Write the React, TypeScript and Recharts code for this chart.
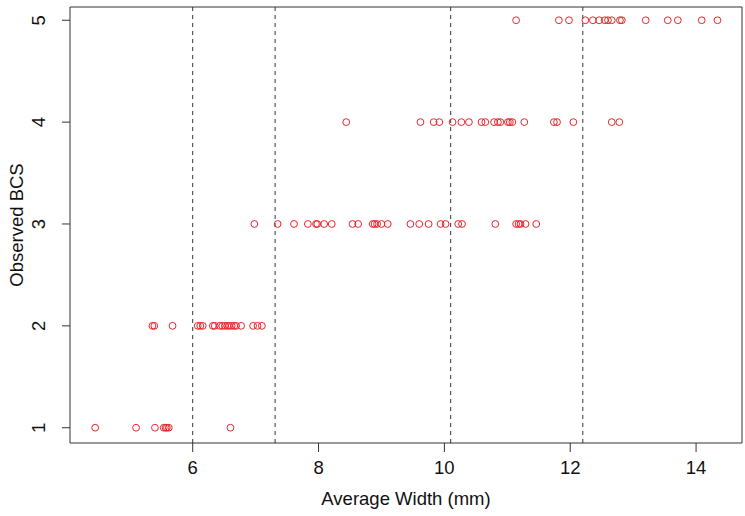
import React from "react";
import {
  ScatterChart,
  Scatter,
  XAxis,
  YAxis,
  ReferenceLine,
  ReferenceArea,
} from "recharts";

// observed widths (mm) for each body condition score
const bcs1 = [4.45, 5.1, 5.4, 5.54, 5.57, 5.59, 5.62, 6.6];
const bcs2 = [
  5.36, 5.39, 5.68, 6.08, 6.12, 6.16, 6.32, 6.35, 6.43, 6.47, 6.51, 6.55,
  6.58, 6.62, 6.66, 6.69, 6.77, 6.96, 7.03, 7.1,
];
const bcs3 = [
  6.98, 7.35, 7.61, 7.83, 7.96, 7.98, 8.09, 8.21, 8.54, 8.63, 8.86, 8.89,
  8.93, 9.0, 9.1, 9.46, 9.6, 9.75, 9.94, 10.02, 10.22, 10.28, 10.81, 11.14,
  11.18, 11.21, 11.29, 11.46,
];
const bcs4 = [
  8.44, 9.62, 9.83, 9.92, 10.13, 10.27, 10.39, 10.59, 10.65, 10.79, 10.85,
  10.89, 11.01, 11.04, 11.08, 11.27, 11.74, 11.79, 12.05, 12.66, 12.78,
];
const bcs5 = [
  11.14, 11.82, 11.98, 12.24, 12.36, 12.46, 12.55, 12.6, 12.66, 12.79, 12.82,
  13.2, 13.55, 13.71, 14.09, 14.34,
];

const scores = [1, 2, 3, 4, 5];
const widthsByScore = [bcs1, bcs2, bcs3, bcs4, bcs5];

const cutoffs = [6.0, 7.31, 10.1, 12.2];
const xTicks = [6, 8, 10, 12, 14];
const yTicks = [1, 2, 3, 4, 5];

const xDomain = [4.05, 14.73];
const yDomain = [0.85, 5.13];

const points = widthsByScore.flatMap((arr, i) =>
  arr.map((w) => ({ x: w, y: scores[i] }))
);

const FONT = "'Liberation Sans', Arial, Helvetica, sans-serif";
const FS = 18.5;

const OpenCircle = (props: any) => (
  <circle
    cx={props.cx}
    cy={props.cy}
    r={3.4}
    fill="none"
    stroke="#e8262d"
    strokeWidth={1}
  />
);

const YTick = (props: any) => {
  const { x, y, payload } = props;
  const a = x - 15;
  return (
    <text
      x={a}
      y={y}
      transform={`rotate(-90, ${a}, ${y})`}
      textAnchor="middle"
      fontSize={FS}
      fontFamily={FONT}
      fill="#111"
    >
      {payload.value}
    </text>
  );
};

const YTitle = (props: any) => {
  const vb = props.viewBox;
  const a = 23;
  const cy = vb.y + vb.height / 2;
  return (
    <text
      x={a}
      y={cy}
      transform={`rotate(-90, ${a}, ${cy})`}
      textAnchor="middle"
      fontSize={FS}
      fontFamily={FONT}
      fill="#111"
    >
      Observed BCS
    </text>
  );
};

export default function App() {
  return (
    <div style={{ position: "absolute", left: 0, top: 0 }}>
      <ScatterChart
        width={745}
        height={516}
        margin={{ top: 7, right: 3, bottom: 0, left: 0 }}
      >
        <XAxis
          type="number"
          dataKey="x"
          domain={xDomain}
          ticks={xTicks}
          allowDataOverflow
          axisLine={false}
          tickSize={9}
          tickMargin={9}
          tickLine={{ stroke: "#333" }}
          tick={{ fontSize: FS, fontFamily: FONT, fill: "#111" }}
          height={73}
          label={{
            value: "Average Width (mm)",
            position: "insideBottom",
            offset: 11,
            fontSize: FS,
            fontFamily: FONT,
            fill: "#111",
          }}
        />
        <YAxis
          type="number"
          dataKey="y"
          domain={yDomain}
          ticks={yTicks}
          allowDataOverflow
          axisLine={false}
          tickSize={8}
          tickMargin={2}
          tickLine={{ stroke: "#333" }}
          tick={<YTick />}
          width={70}
          label={<YTitle />}
        />
        <ReferenceArea
          x1={xDomain[0]}
          x2={xDomain[1]}
          y1={yDomain[0]}
          y2={yDomain[1]}
          fill="none"
          stroke="#333"
          strokeWidth={1}
          ifOverflow="visible"
        />
        {cutoffs.map((c) => (
          <ReferenceLine
            key={c}
            x={c}
            stroke="#333"
            strokeDasharray="4 4"
            strokeWidth={1}
          />
        ))}
        <Scatter
          data={points}
          shape={<OpenCircle />}
          isAnimationActive={false}
        />
      </ScatterChart>
    </div>
  );
}
